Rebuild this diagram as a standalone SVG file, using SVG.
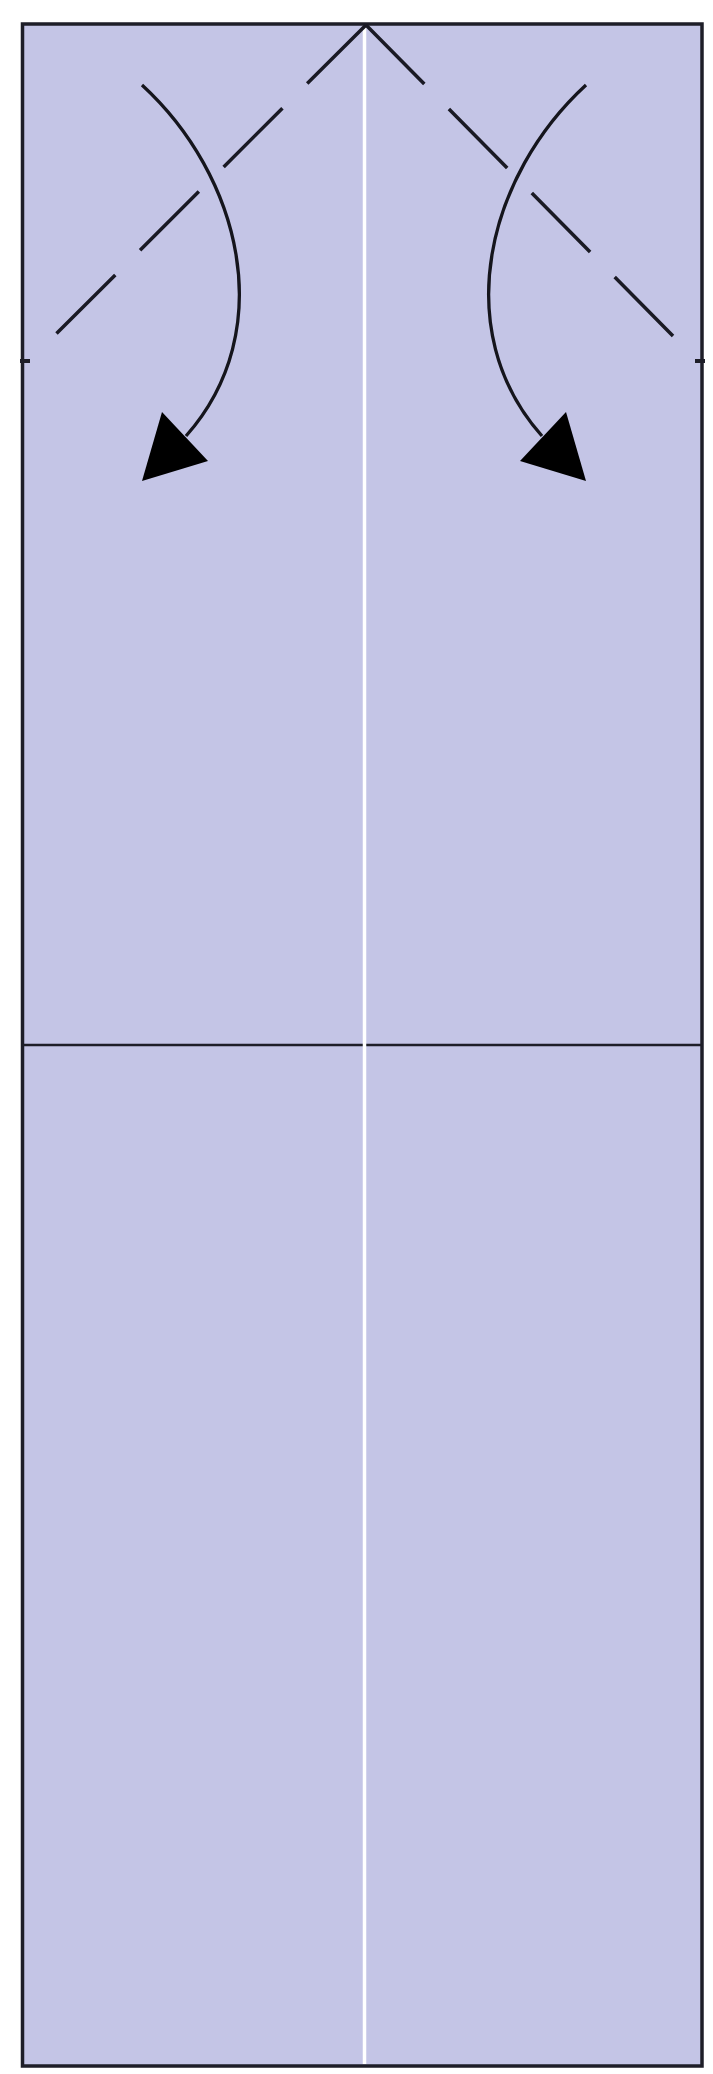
<svg xmlns="http://www.w3.org/2000/svg" width="713" height="2074" viewBox="0 0 713 2074">
<style>
.paper{fill:#c4c5e6;stroke:#1e1e28;stroke-width:3.5}
.crease{stroke:#1e1e28;stroke-width:2.5;fill:none}
.center{stroke:#ffffff;stroke-width:3.5;fill:none}
.valley{stroke:#1a1a24;stroke-width:3.5;fill:none;stroke-dasharray:83 35}
.arrow{stroke:#15151c;stroke-width:3.3;fill:none}
.head{fill:#000}
.tick{stroke:#1e1e28;stroke-width:4;fill:none}
</style>
<rect width="713" height="2074" fill="#ffffff"/>
<g id="paper">
<rect class="paper" x="22.5" y="24" width="679.5" height="2042"/>
<line class="crease" x1="22.5" y1="1045" x2="702" y2="1045"/>
<line class="center" x1="364.5" y1="26" x2="364.5" y2="2064"/>
<line class="tick" x1="20" y1="361" x2="30" y2="361"/>
<line class="tick" x1="695" y1="361" x2="705" y2="361"/>
</g>
<g id="folds">
<line class="valley" x1="366" y1="25" x2="55" y2="335"/>
<line class="valley" x1="366" y1="25" x2="674" y2="337"/>
</g>
<g id="arrow-left">
<path class="arrow" d="M142,85 C240,175 280,330 186,436"/>
<polygon class="head" points="142,481 162,412 208,461"/>
</g>
<g id="arrow-right">
<path class="arrow" d="M586,85 C488,175 448,330 542,436"/>
<polygon class="head" points="586,481 566,412 520,461"/>
</g>
</svg>
